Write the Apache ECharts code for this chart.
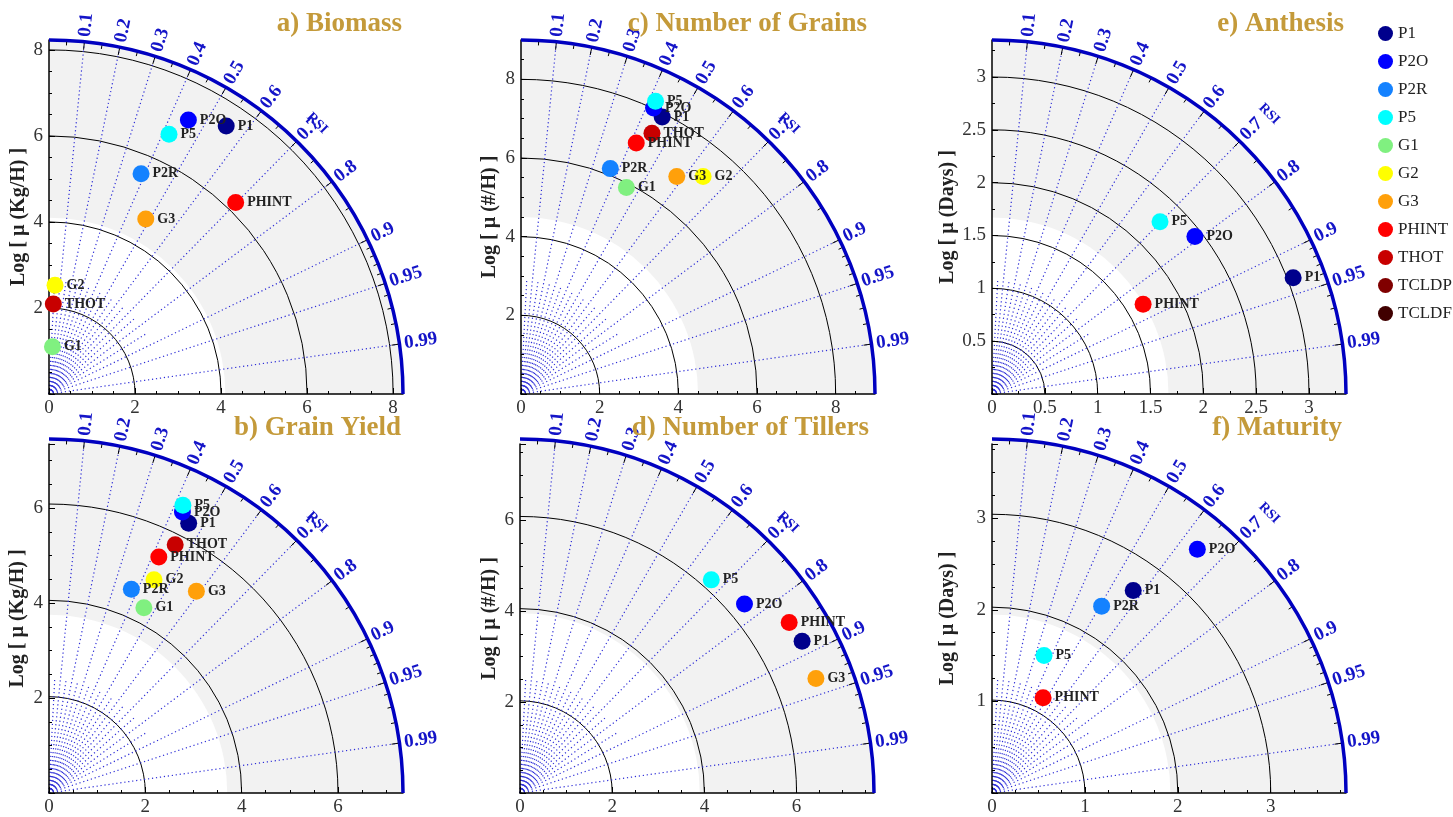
<!DOCTYPE html>
<html>
<head>
<meta charset="utf-8">
<script src="https://cdn.jsdelivr.net/npm/echarts@6.0.0/dist/echarts.min.js"></script>
<style>
html, body { margin: 0; padding: 0; background: #fff; }
#chart { width: 1453px; height: 817px; }
</style>
</head>
<body>
<div id="chart"></div>
<script>
const SERIF = 'Liberation Serif';

// models and their colours (legend order)
const models = ['P1', 'P2O', 'P2R', 'P5', 'G1', 'G2', 'G3', 'PHINT', 'THOT', 'TCLDP', 'TCLDF'];
const modelColors = ['#00008c', '#0000ff', '#1482ff', '#00ffff', '#80f080', '#ffff00', '#ffa00a', '#ff0000', '#c80000', '#800000', '#400000'];

// panel order: a, b, c, d, e, f
const panelTitles = ['a) Biomass', 'b) Grain Yield', 'c) Number of Grains', 'd) Number of Tillers', 'e) Anthesis', 'f) Maturity'];
const yNames = ['Log [ \u00b5 (Kg/H) ]', 'Log [ \u00b5 (Kg/H) ]', 'Log [ \u00b5 (#/H) ]', 'Log [ \u00b5 (#/H) ]', 'Log [ \u00b5 (Days) ]', 'Log [ \u00b5 (Days) ]'];
const axisMax = [8.23, 7.35, 9.0, 7.68, 3.35, 3.81];
const tickStep = [2, 2, 2, 2, 0.5, 1];
const whiteRadius = [4.1, 3.7, 4.5, 3.9, 1.67, 1.92];

// correlation (RSI) lines
const majorCorr = [0.1, 0.2, 0.3, 0.4, 0.5, 0.6, 0.7, 0.8, 0.9, 0.95, 0.99];
const minorCorr = [0.05, 0.15, 0.25, 0.35, 0.45, 0.55, 0.65, 0.75, 0.85];
const arcTickCorr = [0.05, 0.15, 0.25, 0.35, 0.45, 0.55, 0.65, 0.75, 0.85, 0.91, 0.92, 0.93, 0.94, 0.96, 0.97, 0.98];

// a) Biomass
const biomassNames = ['P1', 'P2O', 'P2R', 'P5', 'G1', 'G2', 'G3', 'PHINT', 'THOT'];
const biomassX = [4.12, 3.24, 2.14, 2.79, 0.08, 0.14, 2.25, 4.34, 0.10];
const biomassY = [6.23, 6.37, 5.12, 6.04, 1.10, 2.53, 4.07, 4.45, 2.09];
// b) Grain Yield
const yieldNames = ['P1', 'P2O', 'P2R', 'P5', 'G1', 'G2', 'G3', 'PHINT', 'THOT'];
const yieldX = [2.90, 2.77, 1.71, 2.78, 1.97, 2.18, 3.06, 2.28, 2.62];
const yieldY = [5.68, 5.92, 4.29, 6.06, 3.90, 4.49, 4.25, 4.97, 5.23];
// c) Number of Grains
const grainsNames = ['P1', 'P2O', 'P2R', 'P5', 'G1', 'G2', 'G3', 'PHINT', 'THOT'];
const grainsX = [3.59, 3.37, 2.27, 3.42, 2.68, 4.63, 3.96, 2.93, 3.33];
const grainsY = [7.04, 7.27, 5.73, 7.44, 5.25, 5.53, 5.53, 6.38, 6.63];
// d) Number of Tillers
const tillersNames = ['P1', 'P2O', 'P5', 'G3', 'PHINT'];
const tillersX = [6.12, 4.87, 4.15, 6.42, 5.84];
const tillersY = [3.34, 4.16, 4.69, 2.52, 3.75];
// e) Anthesis
const anthesisNames = ['P1', 'P2O', 'P5', 'PHINT'];
const anthesisX = [2.85, 1.92, 1.59, 1.43];
const anthesisY = [1.10, 1.49, 1.63, 0.85];
// f) Maturity
const maturityNames = ['P1', 'P2O', 'P2R', 'P5', 'PHINT'];
const maturityX = [1.52, 2.21, 1.18, 0.56, 0.55];
const maturityY = [2.21, 2.66, 2.04, 1.50, 1.04];

const panelNames = [biomassNames, yieldNames, grainsNames, tillersNames, anthesisNames, maturityNames];
const panelX = [biomassX, yieldX, grainsX, tillersX, anthesisX, maturityX];
const panelY = [biomassY, yieldY, grainsY, tillersY, anthesisY, maturityY];

// layout
const gridLeft = [49, 49, 521, 520, 992, 992];
const gridTop = [40, 444, 40, 444, 40, 444];
const gridSize = 354;
const titleRight = [402, 401, 867, 869, 1344, 1342];
const titleTop = [11, 415, 11, 415, 11, 415];
const nameGap = [20, 21, 21, 20, 34, 34];
const minorSplit = [4, 4, 4, 4, 2, 4];
const rsiOffset = [27, 27, 27, 27, 40, 40];

function frameRenderer(pi) {
	return function (params, api) {
		const o = api.coord([0, 0]);
		const k = api.size([1, 1])[0];
		const R = axisMax[pi] * k;
		const ch = [];
		const q = {cx: o[0], cy: o[1], startAngle: -Math.PI / 2, endAngle: 0, clockwise: true};
		ch.push({type: 'sector', shape: Object.assign({r0: 0, r: R}, q), style: {fill: '#f2f2f2'}});
		ch.push({type: 'sector', shape: Object.assign({r0: 0, r: whiteRadius[pi] * k}, q), style: {fill: '#ffffff'}});
		// range arcs
		for (let i = 1; i * tickStep[pi] < axisMax[pi] - 1e-6; i++) {
			ch.push({type: 'arc', shape: Object.assign({r: i * tickStep[pi] * k}, q),
				style: {fill: null, stroke: '#000', lineWidth: 1}});
		}
		// correlation lines
		const dotted = {stroke: '#2d2dd7', lineWidth: 1.2, lineDash: [1.2, 2.8]};
		majorCorr.forEach(c => {
			const t = Math.acos(c);
			ch.push({type: 'line', shape: {x1: o[0], y1: o[1], x2: o[0] + R * Math.cos(t), y2: o[1] - R * Math.sin(t)}, style: dotted});
		});
		minorCorr.forEach(c => {
			const t = Math.acos(c);
			const r = R * 0.32;
			ch.push({type: 'line', shape: {x1: o[0], y1: o[1], x2: o[0] + r * Math.cos(t), y2: o[1] - r * Math.sin(t)}, style: dotted});
		});
		return {type: 'group', children: ch};
	};
}

function rimRenderer(pi) {
	return function (params, api) {
		const o = api.coord([0, 0]);
		const k = api.size([1, 1])[0];
		const R = axisMax[pi] * k;
		const ch = [];
		ch.push({type: 'arc', shape: {cx: o[0], cy: o[1], r: R, startAngle: -Math.PI / 2, endAngle: 0, clockwise: true},
			style: {fill: null, stroke: '#0000c0', lineWidth: 3.5}});
		const tick = (c, len) => {
			const t = Math.acos(c);
			ch.push({type: 'line', shape: {
				x1: o[0] + (R - len) * Math.cos(t), y1: o[1] - (R - len) * Math.sin(t),
				x2: o[0] + (R - 1.5) * Math.cos(t), y2: o[1] - (R - 1.5) * Math.sin(t)},
				style: {stroke: '#000', lineWidth: 1}});
		};
		majorCorr.forEach(c => tick(c, 8));
		arcTickCorr.forEach(c => tick(c, 5));
		majorCorr.forEach(c => {
			const t = Math.acos(c);
			ch.push({type: 'text', x: o[0] + (R + 5) * Math.cos(t), y: o[1] - (R + 5) * Math.sin(t), rotation: t,
				style: {text: String(c), font: 'bold 19px ' + SERIF, fill: '#1414c8', align: 'left', verticalAlign: 'middle'}});
		});
		const ta = 45.3 * Math.PI / 180;
		const rr = R + rsiOffset[pi];
		ch.push({type: 'text', x: o[0] + rr * Math.cos(ta), y: o[1] - rr * Math.sin(ta), rotation: ta - Math.PI / 2,
			style: {text: 'RSI', font: 'bold 14px ' + SERIF, fill: '#1414c8', align: 'center', verticalAlign: 'middle'}});
		return {type: 'group', children: ch};
	};
}

const grids = [], xAxes = [], yAxes = [], series = [], titles = [];
for (let i = 0; i < 6; i++) {
	grids.push({left: gridLeft[i], top: gridTop[i], width: gridSize, height: gridSize});
	const common = {
		type: 'value', gridIndex: i, min: 0, max: axisMax[i], interval: tickStep[i], z: 3,
		axisLine: {show: true, onZero: false, lineStyle: {color: '#000', width: 1.5}},
		axisTick: {show: true, inside: true, length: 6, lineStyle: {color: '#000', width: 1}},
		minorTick: {show: true, splitNumber: minorSplit[i], length: 3, lineStyle: {color: '#000', width: 1}},
		splitLine: {show: false},
	};
	xAxes.push(Object.assign({}, common, {
		axisLabel: {showMaxLabel: false, fontFamily: SERIF, fontSize: 19, color: '#333', margin: 5},
	}));
	yAxes.push(Object.assign({}, common, {
		name: yNames[i], nameLocation: 'middle', nameGap: nameGap[i],
		nameTextStyle: {fontFamily: SERIF, fontWeight: 'bold', fontSize: 20, color: '#222'},
		axisLabel: {showMaxLabel: false, showMinLabel: false, fontFamily: SERIF, fontSize: 19, color: '#333', margin: 6},
	}));
	titles.push({text: panelTitles[i], right: 1453 - titleRight[i], top: titleTop[i], padding: 0,
		textStyle: {fontFamily: SERIF, fontWeight: 'bold', fontSize: 27, color: '#c49a3a'}});
	series.push({type: 'custom', xAxisIndex: i, yAxisIndex: i, data: [[0, 0]], clip: false, silent: true, z: 1,
		renderItem: frameRenderer(i)});
	series.push({type: 'custom', xAxisIndex: i, yAxisIndex: i, data: [[0, 0]], clip: false, silent: true, z: 4,
		renderItem: rimRenderer(i)});
	series.push({
		type: 'scatter', xAxisIndex: i, yAxisIndex: i, symbolSize: 17, z: 5, silent: true,
		data: panelNames[i].map((n, j) => ({name: n, value: [panelX[i][j], panelY[i][j]],
			itemStyle: {color: modelColors[models.indexOf(n)], opacity: 1}})),
		label: {show: true, position: 'right', distance: 3, formatter: '{b}',
			fontFamily: SERIF, fontWeight: 'bold', fontSize: 14, color: '#222'},
	});
}
// legend entries
models.forEach((m, j) => {
	series.push({type: 'scatter', name: m, xAxisIndex: 0, yAxisIndex: 0, data: [], itemStyle: {color: modelColors[j], opacity: 1}});
});

const chart = echarts.init(document.getElementById('chart'), null, {renderer: 'canvas'});
chart.setOption({
	animation: false,
	backgroundColor: '#fff',
	title: titles,
	grid: grids,
	xAxis: xAxes,
	yAxis: yAxes,
	legend: {
		data: models.map((m, j) => ({name: m, itemStyle: {color: modelColors[j], opacity: 1, borderWidth: 0}})),
		orient: 'vertical', left: 1378, top: 25, padding: 0,
		icon: 'circle', itemWidth: 15, itemHeight: 15, itemGap: 11, selectedMode: false,
		textStyle: {fontFamily: SERIF, fontSize: 17, color: '#222'},
	},
	series: series,
});
</script>
</body>
</html>
